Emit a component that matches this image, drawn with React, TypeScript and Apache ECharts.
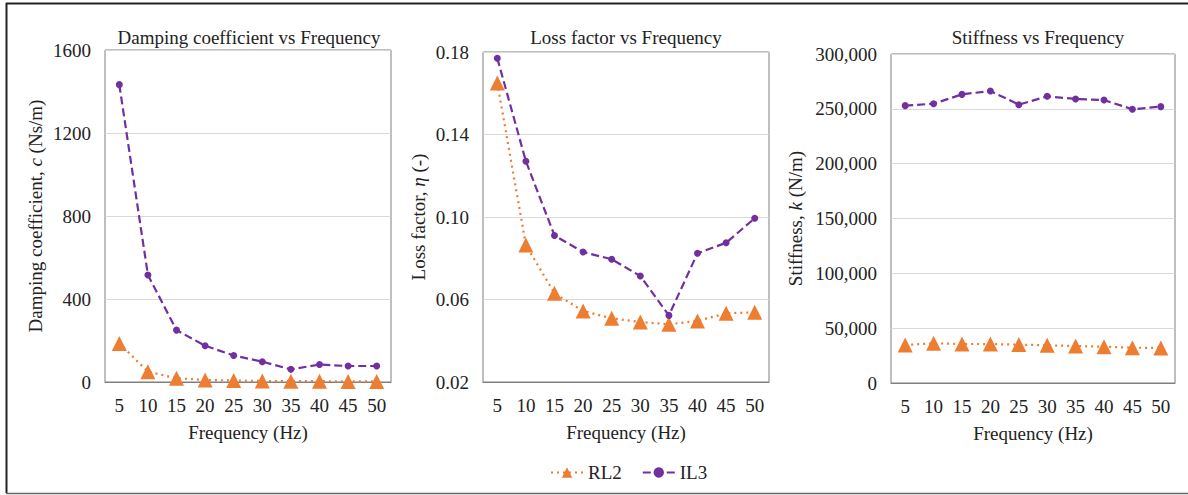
import React, { useEffect, useRef } from "react";
import * as echarts from "echarts";

const frequencies = ["5", "10", "15", "20", "25", "30", "35", "40", "45", "50"];

const dampingRL2 = [186, 50, 18, 10, 7, 5, 4, 4, 3, 3];
const dampingIL3 = [1433, 516, 250, 175, 128, 98, 61, 84, 77, 77];

const lossRL2 = [0.165, 0.0864, 0.063, 0.0544, 0.0509, 0.0491, 0.048, 0.0496, 0.0533, 0.0538];
const lossIL3 = [0.177, 0.127, 0.091, 0.083, 0.0795, 0.0714, 0.0523, 0.0824, 0.0875, 0.0994];

const stiffRL2 = [34700, 36200, 35600, 35500, 35000, 34400, 33700, 33100, 32200, 32000];
const stiffIL3 = [252900, 254700, 263200, 266300, 253800, 261400, 259000, 258000, 249600, 252000];

const titles = ["Damping coefficient vs Frequency", "Loss factor vs Frequency", "Stiffness vs Frequency"];
const yNames = [
  "Damping coefficient, {i|c} (Ns/m)",
  "Loss factor, {i|η} (-)",
  "Stiffness, {i|k} (N/m)",
];
const xName = "Frequency (Hz)";

const ORANGE = "#ED7D31";
const PURPLE = "#7030A0";
const FONT = "Liberation Serif";
const SIZE = 19;

export default function App() {
  const ref = useRef<HTMLDivElement>(null);
  useEffect(() => {
    if (!ref.current) return;
    const chart = echarts.init(ref.current, undefined, { renderer: "svg" });

    const grids = [
      { left: 105, top: 50, width: 286, height: 332 },
      { left: 483, top: 52, width: 286, height: 330 },
      { left: 891, top: 54, width: 284, height: 329 },
    ];
    const yCfg = [
      { min: 0, max: 1600, interval: 400, gap: 60, fmt: (v: number) => String(v) },
      { min: 0.02, max: 0.18, interval: 0.04, gap: 55, fmt: (v: number) => v.toFixed(2) },
      { min: 0, max: 300000, interval: 50000, gap: 86, fmt: (v: number) => v.toLocaleString("en-US") },
    ];
    const rl2 = [dampingRL2, lossRL2, stiffRL2];
    const il3 = [dampingIL3, lossIL3, stiffIL3];

    const series: any[] = [];
    for (let i = 0; i < 3; i++) {
      series.push({
        name: "RL2",
        type: "line",
        xAxisIndex: i,
        yAxisIndex: i,
        data: rl2[i],
        symbol: "triangle",
        symbolSize: 15,
        itemStyle: { color: ORANGE },
        lineStyle: { color: ORANGE, width: 2.2, type: [2, 4] },
        z: 3,
      });
      series.push({
        name: "IL3",
        type: "line",
        xAxisIndex: i,
        yAxisIndex: i,
        data: il3[i],
        symbol: "circle",
        symbolSize: 7,
        itemStyle: { color: PURPLE },
        lineStyle: { color: PURPLE, width: 2.2, type: [8, 4] },
        z: 4,
      });
    }

    chart.setOption({
      animation: false,
      backgroundColor: "#fff",
      textStyle: { fontFamily: FONT, fontWeight: "normal" },
      title: titles.map((t, i) => ({
        text: t,
        left: grids[i].left + grids[i].width / 2 + (i === 0 ? -4 : i === 1 ? -5 : 0),
        top: 23,
        textAlign: "center",
        textStyle: { fontFamily: FONT, fontSize: SIZE, fontWeight: "normal", color: "#222" },
      })),
      legend: {
        data: ["RL2", "IL3"],
        left: 545,
        top: 458,
        itemWidth: 32,
        itemHeight: 13,
        itemGap: 20,
        textStyle: { fontFamily: FONT, fontSize: SIZE, color: "#222" },
      },
      grid: grids.map((g) => ({
        ...g,
        show: true,
        borderColor: "#7f7f7f",
        borderWidth: 1,
        backgroundColor: "transparent",
      })),
      xAxis: grids.map((_, i) => ({
        type: "category",
        gridIndex: i,
        data: frequencies,
        boundaryGap: true,
        name: xName,
        nameLocation: "middle",
        nameGap: 41,
        nameTextStyle: { fontFamily: FONT, fontSize: SIZE, color: "#222" },
        axisLine: { lineStyle: { color: "#7f7f7f" } },
        axisTick: { show: false },
        axisLabel: { fontFamily: FONT, fontSize: SIZE, color: "#222", margin: 14, interval: 0 },
      })),
      yAxis: yCfg.map((c, i) => ({
        type: "value",
        gridIndex: i,
        min: c.min,
        max: c.max,
        interval: c.interval,
        name: yNames[i],
        nameLocation: "middle",
        nameGap: c.gap,
        nameTextStyle: {
          fontFamily: FONT,
          fontSize: SIZE,
          color: "#222",
          rich: { i: { fontFamily: FONT, fontSize: SIZE, fontStyle: "italic", color: "#222" } },
        },
        axisLine: { show: false },
        axisTick: { show: false },
        axisLabel: { fontFamily: FONT, fontSize: SIZE, color: "#222", margin: 14, formatter: c.fmt },
        splitLine: { lineStyle: { color: "#d9d9d9" } },
      })),
      series,
      graphic: [
        { type: "line", shape: { x1: 6, y1: 3.5, x2: 1188, y2: 3.5 }, style: { stroke: "#222", lineWidth: 2 } },
        { type: "line", shape: { x1: 6.5, y1: 3, x2: 6.5, y2: 493 }, style: { stroke: "#222", lineWidth: 2 } },
        { type: "line", shape: { x1: 6, y1: 493.5, x2: 1188, y2: 493.5 }, style: { stroke: "#666", lineWidth: 1.5 } },
      ],
    });
    return () => chart.dispose();
  }, []);
  return (
    <div
      ref={ref}
      style={{ position: "absolute", left: 0, top: 0, width: 1188, height: 495 }}
    />
  );
}
